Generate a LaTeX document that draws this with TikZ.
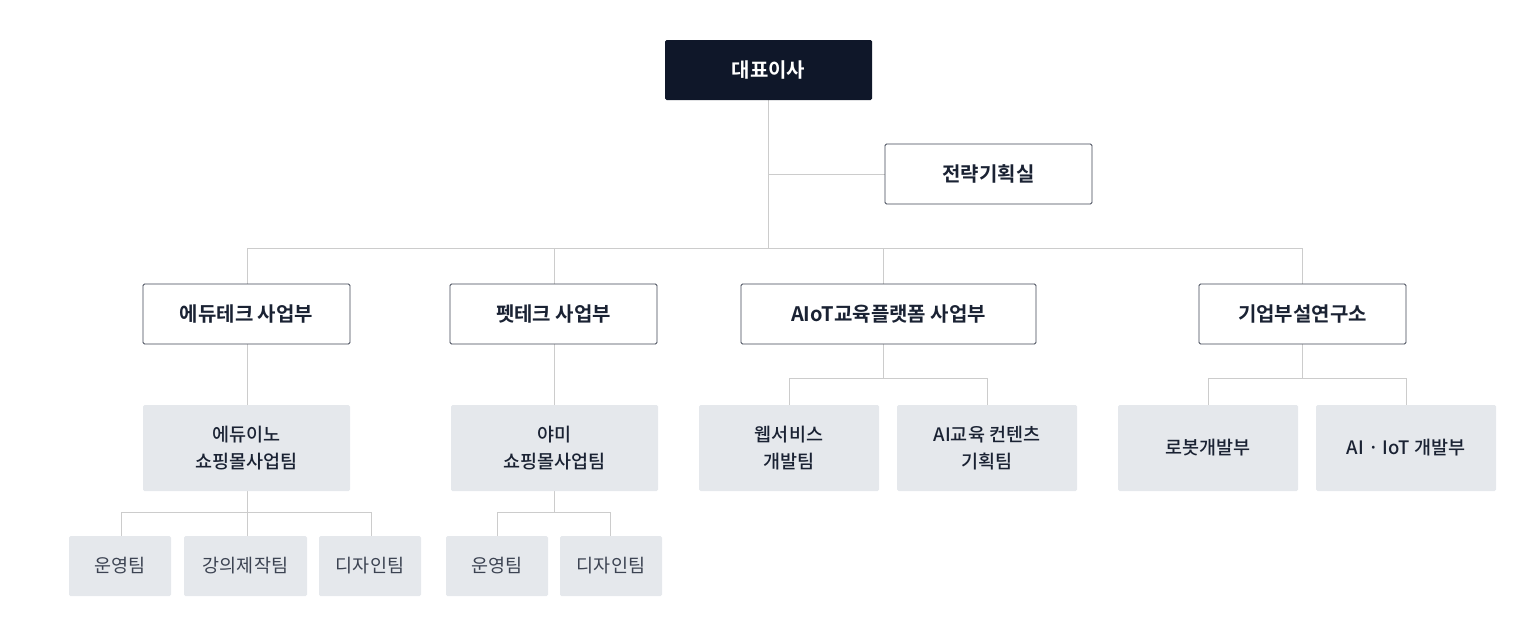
\documentclass[tikz,border=0pt]{standalone}
\usepackage{fontspec}
\setmainfont{Noto Sans CJK KR}
\newfontfamily\bfk{Noto Sans CJK KR Bold}
\newfontfamily\mdk{Noto Sans CJK KR Medium}
\definecolor{dark}{HTML}{0F1729}
\definecolor{boxg}{HTML}{E5E8EC}
\definecolor{ln}{HTML}{CCCCCC}
\definecolor{txt}{HTML}{1A2233}
\tikzset{
 lvl/.style={draw=dark!80,line width=0.8pt,fill=white,text=txt,font=\bfk\fontsize{20}{24}\selectfont},
 grb/.style={fill=boxg,text=txt,font=\mdk\fontsize{18.5}{27}\selectfont,align=center},
 smb/.style={fill=boxg,text=txt!85,font=\fontsize{18.5}{22}\selectfont},
 con/.style={draw=ln,line width=1pt}
}
\newcommand\bx[6]{\path[#1] (#2,#3) rectangle (#4,#5); \node[#1,draw=none,fill=none,inner sep=0] (#6) at ({(#2+#4)/2},{(#3+#5)/2}) {};}
\begin{document}
\begin{tikzpicture}[x=1pt,y=-1pt]
\useasboundingbox (0,0) rectangle (1528,635);
% connectors
\draw[con] (768,100) -- (768,248);
\draw[con] (768,174) -- (885,174);
\draw[con] (247,284) -- (247,248) -- (1302,248) -- (1302,284);
\draw[con] (554,248) -- (554,284);
\draw[con] (883,248) -- (883,284);
\draw[con] (247,344) -- (247,536);
\draw[con] (554,344) -- (554,512);
\draw[con] (883,344) -- (883,378);
\draw[con] (789,405) -- (789,378) -- (987,378) -- (987,405);
\draw[con] (1302,344) -- (1302,378);
\draw[con] (1208,405) -- (1208,378) -- (1406,378) -- (1406,405);
\draw[con] (121,536) -- (121,512) -- (371,512) -- (371,536);
\draw[con] (497,536) -- (497,512) -- (610,512) -- (610,536);
% boxes
\path[fill=dark,rounded corners=1.5pt] (665,40) rectangle (872,100);
\node[text=white,font=\bfk\fontsize{20}{24}\selectfont] (ceo) at (768.5,70) {대표이사};
\path[lvl,rounded corners=1.5pt] (885,144) rectangle (1092,204);
\node[lvl,draw=none,fill=none] (st) at (988.5,174) {전략기획실};
\path[lvl,rounded corners=1.5pt] (143,284) rectangle (350,344);
\node[lvl,draw=none,fill=none] (ed) at (246.5,314) {에듀테크 사업부};
\path[lvl,rounded corners=1.5pt] (450,284) rectangle (657,344);
\node[lvl,draw=none,fill=none] (pt) at (553.5,314) {펫테크 사업부};
\path[lvl,rounded corners=1.5pt] (741,284) rectangle (1036,344);
\node[lvl,draw=none,fill=none] (ai) at (888.5,314) {AIoT교육플랫폼 사업부};
\path[lvl,rounded corners=1.5pt] (1199,284) rectangle (1406,344);
\node[lvl,draw=none,fill=none] (lab) at (1302.5,314) {기업부설연구소};
% level 3
\path[fill=boxg,rounded corners=1.5pt] (143,405) rectangle (350,491);
\node[grb,fill=none] (ei) at (246.5,448) {에듀이노\\쇼핑몰사업팀};
\path[fill=boxg,rounded corners=1.5pt] (451,405) rectangle (658,491);
\node[grb,fill=none] (ym) at (554.5,448) {야미\\쇼핑몰사업팀};
\path[fill=boxg,rounded corners=1.5pt] (699,405) rectangle (879,491);
\node[grb,fill=none] (ws) at (789,448) {웹서비스\\개발팀};
\path[fill=boxg,rounded corners=1.5pt] (897,405) rectangle (1077,491);
\node[grb,fill=none] (ac) at (987,448) {AI교육 컨텐츠\\기획팀};
\path[fill=boxg,rounded corners=1.5pt] (1118,405) rectangle (1298,491);
\node[grb,fill=none] (rb) at (1208,448) {로봇개발부};
\path[fill=boxg,rounded corners=1.5pt] (1316,405) rectangle (1496,491);
\node[grb,fill=none] (ii) at (1406,448) {AI · IoT 개발부};
% level 4
\path[fill=boxg,rounded corners=1.5pt] (69,536) rectangle (171,596);
\node[smb,fill=none] (o1) at (120,566) {운영팀};
\path[fill=boxg,rounded corners=1.5pt] (184,536) rectangle (307,596);
\node[smb,fill=none] (o2) at (245.5,566) {강의제작팀};
\path[fill=boxg,rounded corners=1.5pt] (319,536) rectangle (421,596);
\node[smb,fill=none] (o3) at (370,566) {디자인팀};
\path[fill=boxg,rounded corners=1.5pt] (446,536) rectangle (548,596);
\node[smb,fill=none] (o4) at (497,566) {운영팀};
\path[fill=boxg,rounded corners=1.5pt] (560,536) rectangle (662,596);
\node[smb,fill=none] (o5) at (611,566) {디자인팀};
\end{tikzpicture}
\end{document}
